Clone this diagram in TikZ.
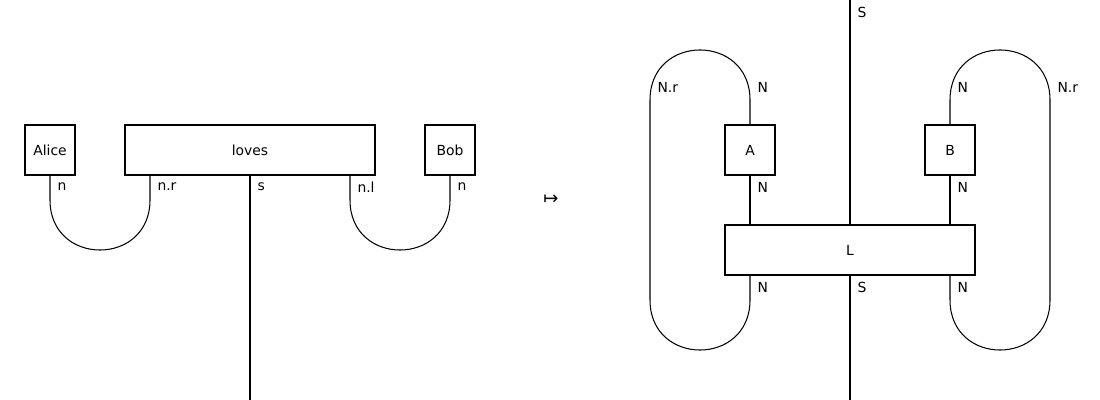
\documentclass[tikz,border=0pt]{standalone}
\usepackage{fontspec}
\setmainfont{DejaVu Sans}
\begin{document}
\begin{tikzpicture}[x=0.72pt,y=-0.72pt,line width=0.75pt,
  boxnode/.style={draw,rectangle,inner sep=0pt,font=\fontsize{10}{12}\selectfont},
  lbl/.style={anchor=west,inner sep=0pt,font=\fontsize{10}{12}\selectfont}]
\useasboundingbox (0,0) rectangle (1100,400);
% left diagram boxes
\node[boxnode,minimum width=36pt,minimum height=36pt] (alice) at (50,150) {Alice};
\node[boxnode,minimum width=180pt,minimum height=36pt] (loves) at (250,150) {loves};
\node[boxnode,minimum width=36pt,minimum height=36pt] (bob) at (450,150) {Bob};
% wires left
\coordinate (c1) at (50,175);
\coordinate (c2) at (150,175);
\coordinate (c3) at (350,175);
\coordinate (c4) at (450,175);
\coordinate (sb) at (250,400);
\draw (c1) -- (50,200) .. controls (50,266.7) and (150,266.7) .. (150,200) -- (c2);
\draw (c3) -- (350,200) .. controls (350,266.7) and (450,266.7) .. (450,200) -- (c4);
\draw (loves.south) -- (sb);
\node[lbl] (l1) at (57,187) {n};
\node[lbl] (l2) at (157,187) {n.r};
\node[lbl] (l3) at (257,187) {s};
\node[lbl] (l4) at (357,187) {n.l};
\node[lbl] (l5) at (457,187) {n};
% mapsto
\node[font=\fontsize{13}{16}\selectfont,inner sep=0pt] (arr) at (551,200) {↦};
% right diagram
\node[boxnode,minimum width=36pt,minimum height=36pt] (A) at (750,150) {A};
\node[boxnode,minimum width=36pt,minimum height=36pt] (B) at (950,150) {B};
\node[boxnode,minimum width=180pt,minimum height=36pt] (L) at (850,250) {L};
\coordinate (stop) at (850,0);
\coordinate (sbot) at (850,400);
\draw (stop) -- (L.north);
\draw (L.south) -- (sbot);
\draw (A.south) -- (750,225);
\draw (B.south) -- (950,225);
% left loop
\draw (A.north) -- (750,100) .. controls (750,33.3) and (650,33.3) .. (650,100) -- (650,300)
  .. controls (650,366.7) and (750,366.7) .. (750,300) -- (750,275);
% right loop
\draw (B.north) -- (950,100) .. controls (950,33.3) and (1050,33.3) .. (1050,100) -- (1050,300)
  .. controls (1050,366.7) and (950,366.7) .. (950,300) -- (950,275);
\node[lbl] (r1) at (857,12) {S};
\node[lbl] (r2) at (657,87) {N.r};
\node[lbl] (r3) at (757,87) {N};
\node[lbl] (r4) at (957,87) {N};
\node[lbl] (r5) at (1057,87) {N.r};
\node[lbl] (r6) at (757,187) {N};
\node[lbl] (r7) at (957,187) {N};
\node[lbl] (r8) at (757,287) {N};
\node[lbl] (r9) at (857,287) {S};
\node[lbl] (r10) at (957,287) {N};
\end{tikzpicture}
\end{document}
